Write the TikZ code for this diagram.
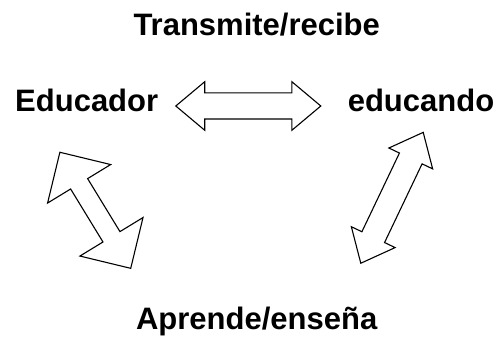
\documentclass[tikz,border=0pt]{standalone}
\usepackage{fontspec}
\setmainfont{Liberation Sans}
\usetikzlibrary{shapes.arrows}
\begin{document}
\begin{tikzpicture}[x=1pt,y=-1pt,
    word/.style={font=\fontsize{31}{37}\selectfont\bfseries, inner sep=0pt, anchor=base},
    blockarrow/.style={draw, double arrow, line width=1.1pt, inner xsep=0pt}]
    \useasboundingbox (0,0) rectangle (501,339);

    \node[word] (trans) at (256.7,36) {Transmite/recibe};
    \node[word] (educador) at (86.7,111.7) {Educador};
    \node[word] (educando) at (421,111.7) {educando};
    \node[word] (aprende) at (256.7,329.3) {Aprende/enseña};

    % double arrows between the words
    \node[blockarrow, minimum height=145pt, inner ysep=12.5pt,
    double arrow head extend=11.2pt, double arrow tip angle=80]
    (top) at (248.3,106) {};
    \node[blockarrow, minimum height=136pt, inner ysep=9.4pt,
    double arrow head extend=27pt, double arrow tip angle=90, rotate=-58.6]
    (left) at (95.3,210.3) {};
    \node[blockarrow, minimum height=145pt, inner ysep=12pt,
    double arrow head extend=11.7pt, double arrow tip angle=80, rotate=64.5]
    (right) at (392,197.8) {};
\end{tikzpicture}
\end{document}
